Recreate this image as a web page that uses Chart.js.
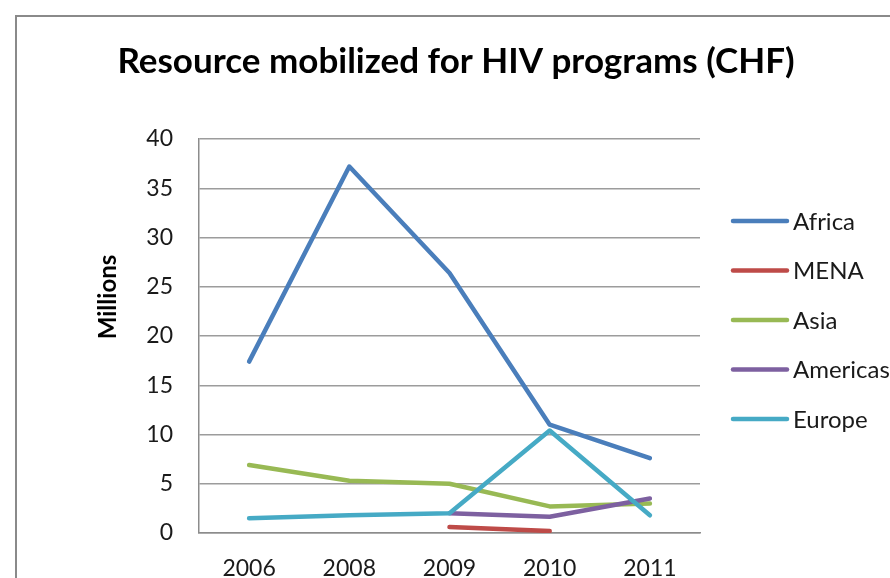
<!DOCTYPE html>
<html>
<head>
<meta charset="utf-8">
<script src="https://cdn.jsdelivr.net/npm/chart.js@4/dist/chart.umd.min.js"></script>
<style>
html,body{margin:0;padding:0;background:#fff;overflow:hidden;}
#wrap{position:absolute;left:0;top:0;width:890px;height:578px;}
</style>
</head>
<body>
<div id="wrap"><canvas id="c" width="890" height="578"></canvas></div>
<script>
const years = ['2006', '2008', '2009', '2010', '2011'];
const africa = [17.4, 37.2, 26.4, 11.0, 7.6];
const mena = [null, null, 0.6, 0.2, null];
const asia = [6.9, 5.3, 5.0, 2.7, 3.0];
const americas = [null, null, 2.0, 1.65, 3.5];
const europe = [1.5, 1.8, 2.0, 10.4, 1.8];
const yTicks = [0, 5, 10, 15, 20, 25, 30, 35, 40];
const yTitle = 'Millions';

const FONT = 'Lato, "Liberation Sans", sans-serif';

function ds(label, data, color, order) {
  return {label, data, borderColor: color, backgroundColor: color, borderWidth: 4.5,
    pointRadius: 0, pointHoverRadius: 0, tension: 0, spanGaps: false, order,
    borderJoinStyle: 'round', borderCapStyle: 'round'};
}

const frame = {
  id: 'frame',
  beforeDraw(chart) {
    const ctx = chart.ctx;
    ctx.save();
    ctx.strokeStyle = '#8a8a8a';
    ctx.lineWidth = 2;
    ctx.strokeRect(16, 16, 1000, 1000);
    ctx.restore();
  }
};

const sideText = {
  id: 'sideText',
  afterDraw(chart) {
    const ctx = chart.ctx;
    const area = chart.chartArea;
    ctx.save();
    ctx.translate(108, 297);
    ctx.rotate(-Math.PI / 2);
    ctx.font = 'bold 24px ' + FONT;
    ctx.textAlign = 'center';
    ctx.textBaseline = 'middle';
    ctx.fillStyle = '#000';
    ctx.fillText(yTitle, 0, 0);
    ctx.restore();

    ctx.save();
    ctx.font = '24px ' + FONT;
    ctx.textBaseline = 'middle';
    ctx.lineCap = 'round';
    const x0 = area.right + 33, lineLen = 54, gap = 49.5;
    const y0 = 221;
    chart.data.datasets.forEach((d, i) => {
      const y = y0 + i * gap;
      ctx.strokeStyle = d.borderColor;
      ctx.lineWidth = 4.5;
      ctx.beginPath();
      ctx.moveTo(x0, y);
      ctx.lineTo(x0 + lineLen, y);
      ctx.stroke();
      ctx.fillStyle = '#1a1a1a';
      ctx.fillText(d.label, x0 + lineLen + 6, y + 1);
    });
    ctx.restore();
  }
};

new Chart(document.getElementById('c'), {
  type: 'line',
  data: {
    labels: years,
    datasets: [
      ds('Africa', africa, '#4a7ebb', 5),
      ds('MENA', mena, '#be4b48', 4),
      ds('Asia', asia, '#98b954', 3),
      ds('Americas', americas, '#7d60a0', 2),
      ds('Europe', europe, '#46aac5', 1)
    ]
  },
  options: {
    responsive: false,
    animation: false,
    events: [],
    layout: {padding: {left: 37, right: 15, top: 0, bottom: 0}},
    plugins: {
      legend: {display: false},
      tooltip: {enabled: false},
      title: {
        display: true,
        text: 'Resource mobilized for HIV programs (CHF)',
        color: '#000',
        font: {family: FONT, size: 35, weight: 'bold', lineHeight: 1.2},
        padding: {top: 41, bottom: 56}
      }
    },
    scales: {
      x: {
        offset: true,
        grid: {display: false, drawTicks: false},
        border: {display: true, color: '#8c8c8c', width: 1.5},
        ticks: {color: '#1a1a1a', font: {family: FONT, size: 23}, padding: 22, maxRotation: 0},
        afterFit(s) { s.height = 45; }
      },
      y: {
        min: 0, max: 40,
        afterBuildTicks(s) { s.ticks = yTicks.map(v => ({value: v})); },
        grid: {color: '#9c9c9c', lineWidth: 1.5, drawTicks: false},
        border: {display: true, color: '#8c8c8c', width: 1.5},
        ticks: {color: '#1a1a1a', font: {family: FONT, size: 23}, padding: 26},
        afterFit(s) { s.width = 199 - 37; }
      },
      side: {
        position: 'right',
        display: true,
        grid: {display: false, drawTicks: false},
        border: {display: false},
        ticks: {display: false},
        afterFit(s) { s.width = 890 - 15 - 700; }
      }
    }
  },
  plugins: [frame, sideText]
});
</script>
</body>
</html>
